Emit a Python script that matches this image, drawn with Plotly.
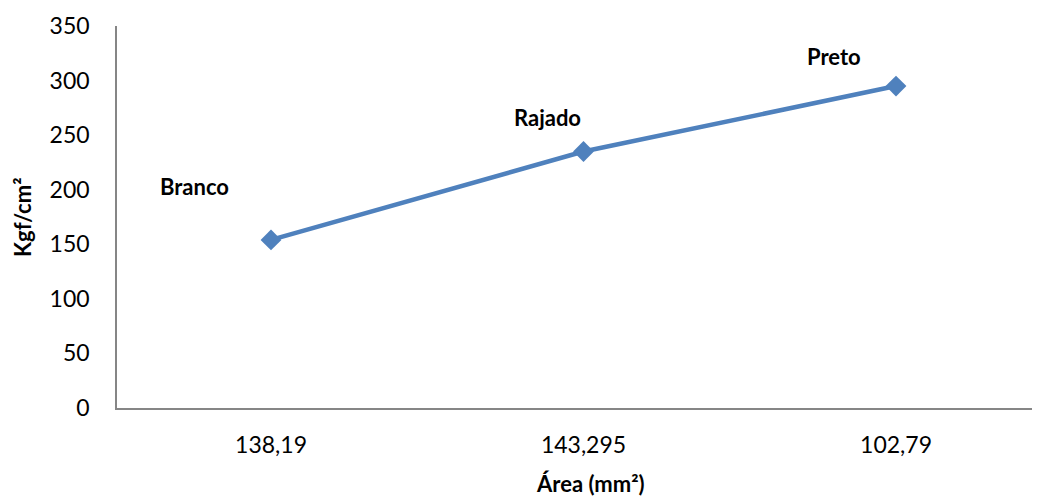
import plotly.graph_objects as go

categories = ["138,19", "143,295", "102,79"]
values = [154, 235, 295]
point_labels = ["Branco", "Rajado", "Preto"]
y_ticks = [0, 50, 100, 150, 200, 250, 300, 350]

# page body has an 8px margin, so the figure is drawn at (8, 8)
W, H = 1032, 488
L, T, B, R = 109, 18, 88, 0
font_family = "Lato, Carlito, Calibri, sans-serif"
blue = "#4F81BD"
axis_gray = "#868686"
FS = 23
band = 312.5

xs = list(range(len(categories)))

fig = go.Figure()
fig.add_trace(go.Scatter(
    x=xs, y=values, mode="lines+markers",
    line=dict(color=blue, width=4.5),
    marker=dict(symbol="diamond", size=16, color=blue),
    showlegend=False, hoverinfo="skip",
))

label_offsets = [(-77, 53), (-36, 34), (-62, 30)]
for i, (lab, (dx, dy)) in enumerate(zip(point_labels, label_offsets)):
    fig.add_annotation(x=xs[i], y=values[i], text=f"<b>{lab}</b>", showarrow=False,
                       xshift=dx, yshift=dy, font=dict(family=font_family, size=FS - 1, color="#000"))

pw, ph = W - L - R, H - T - B
fig.add_annotation(xref="paper", yref="paper", x=(582 - L) / pw, y=-(475 - (H - B)) / ph,
                   text="<b>Área (mm²)</b>", showarrow=False, xanchor="center", yanchor="middle",
                   font=dict(family=font_family, size=FS - 1, color="#000"))
fig.add_annotation(xref="paper", yref="paper", x=-(L - 14) / pw, y=(H - B - 209) / ph,
                   text="<b>Kgf/cm²</b>", showarrow=False, textangle=-90, xanchor="center", yanchor="middle",
                   font=dict(family=font_family, size=FS - 1, color="#000"))

x0 = -154 / band
fig.update_layout(
    width=W, height=H,
    margin=dict(l=L, r=R, t=T, b=B),
    paper_bgcolor="white", plot_bgcolor="white",
    font=dict(family=font_family, size=FS, color="#000"),
    xaxis=dict(range=[x0, x0 + pw / band], tickvals=xs, ticktext=categories,
               showgrid=False, zeroline=False, showline=True, linecolor=axis_gray, linewidth=1.5,
               ticks="", ticklabelstandoff=16, tickfont=dict(size=FS)),
    yaxis=dict(range=[0, 350], tickvals=y_ticks, showgrid=False, zeroline=False,
               showline=True, linecolor=axis_gray, linewidth=1.5, ticks="",
               ticklabelstandoff=21, tickfont=dict(size=FS)),
)

fig.write_html("out.html")
